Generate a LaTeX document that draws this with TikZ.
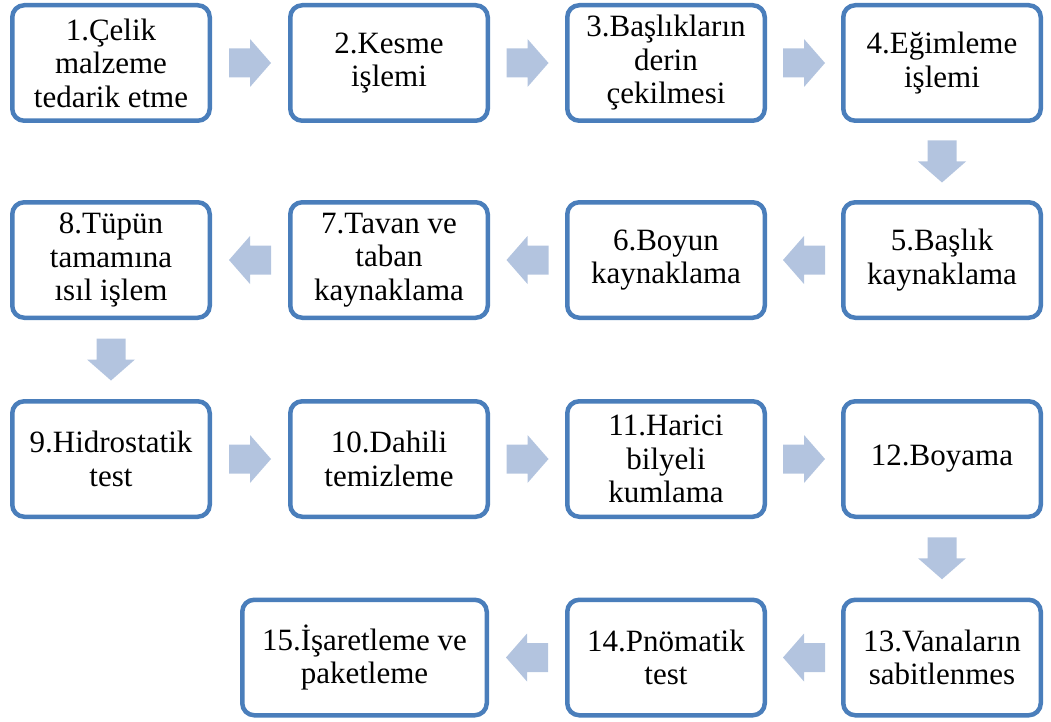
\documentclass[tikz,border=0pt]{standalone}
\usepackage{fontspec}
\setmainfont{Liberation Serif}
\usetikzlibrary{calc}
\definecolor{boxline}{HTML}{4A7EBB}
\definecolor{arrowfill}{HTML}{B3C4DF}
\tikzset{
  stepbox/.style={draw=boxline, line width=4.5pt, rounded corners=12pt, fill=white,
    minimum width=197.5pt, minimum height=115.5pt, align=center, inner sep=2pt,
    font=\fontsize{31pt}{33.5pt}\selectfont},
  widebox/.style={stepbox, minimum width=244.5pt},
  blockarrow/.pic={\fill[arrowfill] (-21,-14.5) -- (0,-14.5) -- (0,-24) -- (21,0) -- (0,24) -- (0,14.5) -- (-21,14.5) -- cycle;}
}
\begin{document}
\begin{tikzpicture}[x=1pt,y=-1pt]
\useasboundingbox (0,0) rectangle (1051,722);
\node[stepbox] (n1) at (111,63) {1.Çelik\\malzeme\\tedarik etme};
\node[stepbox] (n2) at (389,63) {2.Kesme\\işlemi};
\node[stepbox] (n3) at (666,63) {3.Başlıkların\\derin\\çekilmesi};
\node[stepbox] (n4) at (942,63) {4.Eğimleme\\işlemi};
\node[stepbox] (n5) at (942,260) {5.Başlık\\kaynaklama};
\node[stepbox] (n6) at (666,260) {6.Boyun\\kaynaklama};
\node[stepbox] (n7) at (389,260) {7.Tavan ve\\taban\\kaynaklama};
\node[stepbox] (n8) at (111,260) {8.Tüpün\\tamamına\\ısıl işlem};
\node[stepbox] (n9) at (111,459) {9.Hidrostatik\\test};
\node[stepbox] (n10) at (389,459) {10.Dahili\\temizleme};
\node[stepbox] (n11) at (666,459) {11.Harici\\bilyeli\\kumlama};
\node[stepbox] (n12) at (942,459) {12.Boyama};
\node[stepbox] (n13) at (942,657.5) {13.Vanaların\\sabitlenmes};
\node[stepbox] (n14) at (666,657.5) {14.Pnömatik\\test};
\node[widebox] (n15) at (364.5,657.5) {15.İşaretleme ve\\paketleme};
% arrows
\pic at ($(n1.east)!0.5!(n2.west)$) {blockarrow};
\pic at ($(n2.east)!0.5!(n3.west)$) {blockarrow};
\pic at ($(n3.east)!0.5!(n4.west)$) {blockarrow};
\pic[rotate=-90] at ($(n4.south)!0.5!(n5.north)$) {blockarrow};
\pic[rotate=180] at ($(n5.west)!0.5!(n6.east)$) {blockarrow};
\pic[rotate=180] at ($(n6.west)!0.5!(n7.east)$) {blockarrow};
\pic[rotate=180] at ($(n7.west)!0.5!(n8.east)$) {blockarrow};
\pic[rotate=-90] at ($(n8.south)!0.5!(n9.north)$) {blockarrow};
\pic at ($(n9.east)!0.5!(n10.west)$) {blockarrow};
\pic at ($(n10.east)!0.5!(n11.west)$) {blockarrow};
\pic at ($(n11.east)!0.5!(n12.west)$) {blockarrow};
\pic[rotate=-90] at ($(n12.south)!0.5!(n13.north)$) {blockarrow};
\pic[rotate=180] at ($(n13.west)!0.5!(n14.east)$) {blockarrow};
\pic[rotate=180] at ($(n14.west)!0.5!(n15.east)$) {blockarrow};
\end{tikzpicture}
\end{document}
